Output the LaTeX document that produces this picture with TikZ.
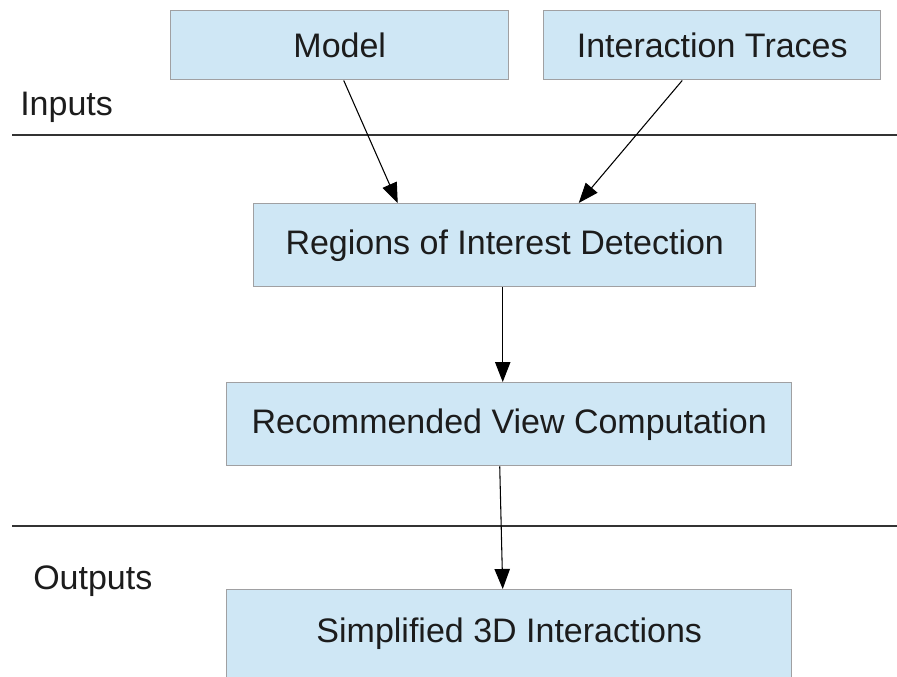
\documentclass[tikz,border=0pt]{standalone}
\usepackage{fontspec}
\setmainfont{Liberation Sans}
\usepackage{tikz}
\usetikzlibrary{positioning,arrows.meta,calc}

\definecolor{boxfill}{RGB}{207,231,245}
\definecolor{boxline}{RGB}{160,160,162}
\definecolor{inktext}{RGB}{28,28,28}

\begin{document}
\begin{tikzpicture}[x=0.75pt,y=0.75pt,yscale=-1,xscale=1,
    stagebox/.style={draw=boxline,line width=1.1pt,fill=boxfill,anchor=north west,inner sep=0pt,
        text=inktext,font=\fontsize{25.5}{30}\selectfont},
    flowarrow/.style={draw=black,line width=0.8pt,-{Triangle[length=15pt,width=11.5pt]}},
    divider/.style={draw=black!80,line width=1.1pt},
    sidelabel/.style={anchor=base west,inner sep=0pt,text=inktext,font=\fontsize{25.5}{30}\selectfont}]
        \useasboundingbox (0,0) rectangle (897,676);
        %Shape: Rectangle [id:model]
        \node [stagebox,minimum width=338*0.75pt,minimum height=69*0.75pt] (model) at (170,10) {Model};
        %Shape: Rectangle [id:traces]
        \node [stagebox,minimum width=337*0.75pt,minimum height=69*0.75pt] (traces) at (543,10) {Interaction Traces};
        %Shape: Rectangle [id:roi]
        \node [stagebox,minimum width=502*0.75pt,minimum height=83*0.75pt] (roi) at (253,203) {Regions of Interest Detection};
        %Shape: Rectangle [id:recview]
        \node [stagebox,minimum width=565*0.75pt,minimum height=83*0.75pt] (recview) at (226,382) {Recommended View Computation};
        %Shape: Rectangle [id:simple]
        \node [stagebox,minimum width=565*0.75pt,minimum height=88*0.75pt] (simple) at (226,589) {Simplified 3D Interactions};
        % Text Node
        \node [sidelabel] (inputs) at (20,115) {Inputs};
        % Text Node
        \node [sidelabel] (outputs) at (33,589) {Outputs};
        %Straight Lines [id:inputs line]
        \coordinate (inL) at (12,135);
        \coordinate (inR) at (897,135);
        \draw [divider] (inL) -- (inR);
        %Straight Lines [id:outputs line]
        \coordinate (outL) at (12,526);
        \coordinate (outR) at (897,526);
        \draw [divider] (outL) -- (outR);
        %Arrows
        \draw [flowarrow] ($(model.south)+(4,0)$) -- ($(roi.north)+(-107,0)$);
        \draw [flowarrow] ($(traces.south)+(-30,0)$) -- ($(roi.north)+(74,0)$);
        \draw [flowarrow] ($(roi.south)+(-2,0)$) -- ($(recview.north)+(-6.5,0)$);
        \draw [flowarrow] ($(recview.south)+(-9.5,0)$) -- ($(simple.north)+(-6.5,0)$);
\end{tikzpicture}
\end{document}
